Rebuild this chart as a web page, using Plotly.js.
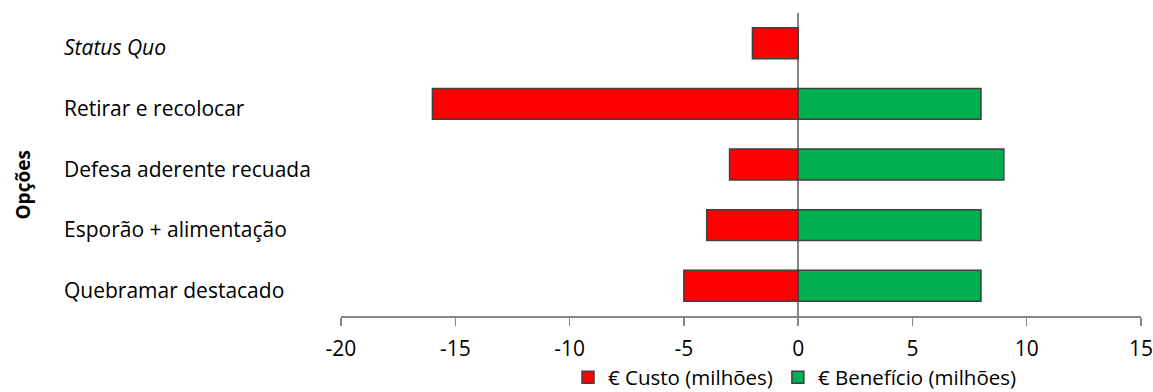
<!DOCTYPE html>
<html>
<head>
<meta charset="utf-8">
<script src="https://cdn.plot.ly/plotly-3.0.1.min.js"></script>
<style>html,body{margin:0;padding:0;background:#fff;}#chart{width:1153px;height:392px;}</style>
</head>
<body>
<div id="chart"></div>
<script>
var categories = ["Status Quo", "Retirar e recolocar", "Defesa aderente recuada", "Esporão + alimentação", "Quebramar destacado"];
var categoryLabels = ["<i>Status Quo</i>", "Retirar e recolocar", "Defesa aderente recuada", "Esporão + alimentação", "Quebramar destacado"];
var custo = [-2, -16, -3, -4, -5];
var beneficio = [0, 8, 9, 8, 8];
var xTicks = [-20, -15, -10, -5, 0, 5, 10, 15];
var seriesNames = ["€ Custo (milhões)", "€ Benefício (milhões)"];
var yTitle = "Opções";

var FONT = "Open Sans";
var traces = [
  {type: "bar", orientation: "h", y: categories, x: custo, name: seriesNames[0],
   width: 0.51, marker: {color: "#FF0000", line: {color: "#404040", width: 1.5}}, hoverinfo: "x+y"},
  {type: "bar", orientation: "h", y: categories, x: beneficio, name: seriesNames[1],
   width: 0.51, marker: {color: "#00B050", line: {color: "#404040", width: 1.5}}, hoverinfo: "x+y"}
];

var annotations = categories.map(function (c, i) {
  return {xref: "paper", yref: "y", x: -0.3493, y: c, xanchor: "left", yanchor: "middle",
          text: categoryLabels[i], showarrow: false, yshift: -4,
          font: {family: FONT, size: 21, color: "#000"}};
});
annotations.push({xref: "paper", yref: "paper", x: -0.397, y: 0.432, xanchor: "center", yanchor: "middle",
  text: "<b>" + yTitle + "</b>", textangle: -90, showarrow: false,
  font: {family: FONT, size: 19, color: "#000"}});

var layout = {
  width: 1153, height: 392,
  margin: {l: 340.5, r: 12.4, t: 13, b: 76, pad: 0, autoexpand: false},
  paper_bgcolor: "#fff", plot_bgcolor: "#fff",
  barmode: "relative",
  bargap: 0.49,
  showlegend: true,
  legend: {orientation: "h", x: 0.5675, xanchor: "center", y: -0.203, yanchor: "middle",
           font: {family: FONT, size: 20.5, color: "#000"}, traceorder: "normal"},
  xaxis: {range: [-20, 15], tickvals: xTicks, ticktext: xTicks.map(String),
          showgrid: false, zeroline: true, zerolinecolor: "#868686", zerolinewidth: 1.5,
          showline: true, linecolor: "#868686", linewidth: 1.5,
          ticks: "outside", ticklen: 8, tickwidth: 1.5, tickcolor: "#868686",
          ticklabeloverflow: "allow", ticklabelstandoff: 5,
          tickfont: {family: FONT, size: 21, color: "#000"}, layer: "above traces", fixedrange: true},
  yaxis: {type: "category", categoryorder: "array", categoryarray: categories.slice().reverse(),
          range: [-0.5, 4.5], showticklabels: false, showgrid: false, zeroline: false,
          showline: false, ticks: "", fixedrange: true},
  annotations: annotations,
  font: {family: FONT}
};

Plotly.newPlot("chart", traces, layout, {displayModeBar: false, staticPlot: true});
</script>
</body>
</html>
